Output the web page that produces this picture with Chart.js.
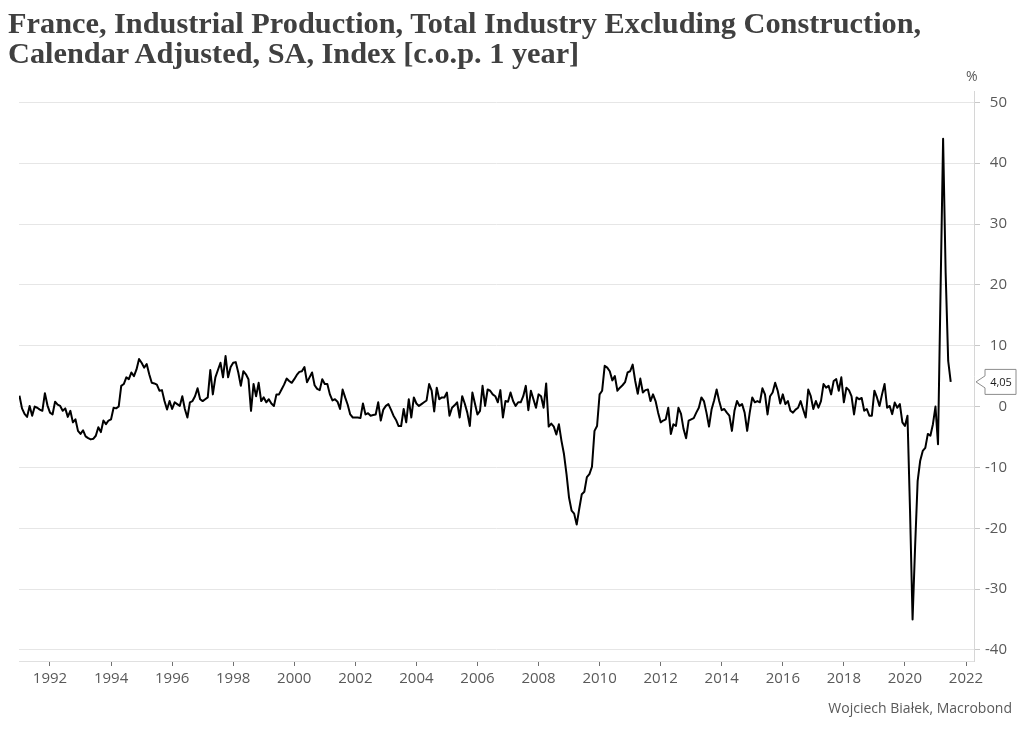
<!DOCTYPE html>
<html>
<head>
<meta charset="utf-8">
<script src="https://cdn.jsdelivr.net/npm/chart.js@4.4.0/dist/chart.umd.min.js"></script>
<style>
  html, body { margin: 0; padding: 0; background: #ffffff; }
  #wrap { position: relative; width: 1024px; height: 730px; overflow: hidden; }
  canvas { display: block; position: absolute; left: 0; top: 0; }
  #title { position: absolute; left: 8px; top: 8px; margin: 0; font-family: "Liberation Serif", "DejaVu Serif", serif; font-weight: bold; font-size: 28px; line-height: 30px; color: #404040; white-space: nowrap; }
  #unit { position: absolute; left: 966px; top: 66px; font-family: "Open Sans", "Noto Sans", sans-serif; font-size: 14px; color: #595959; }
  #source { position: absolute; right: 12px; top: 698px; font-family: "Open Sans", "Noto Sans", sans-serif; font-size: 14px; color: #595959; white-space: nowrap; }
</style>
</head>
<body>
<div id="wrap">
  <canvas id="c" width="1024" height="730"></canvas>
  <div id="title"></div>
  <div id="unit"></div>
  <div id="source"></div>
</div>
<script>
// ---- text ----
const titleLines = [
  "France, Industrial Production, Total Industry Excluding Construction,",
  "Calendar Adjusted, SA, Index [c.o.p. 1 year]"
];
const unitLabel = "%";
const sourceText = "Wojciech Białek, Macrobond";
const lastValueLabel = "4,05";

// ---- data: monthly, year-on-year % change, starting January 1991 ----
const startYear = 1991;
const values1991_1995 = [
  1.8, -0.3, -1.2, -1.7, 0.1, -1.5, 0.0, -0.2, -0.5, -0.7, 2.2, 0.2,
  -1.0, -1.3, 0.8, 0.3, 0.1, -0.7, -0.3, -1.7, -0.7, -2.6, -2.1, -4.0,
  -4.5, -3.9, -4.9, -5.2, -5.4, -5.3, -4.8, -3.4, -4.2, -2.3, -2.9, -2.3,
  -2.1, -0.2, -0.3, 0.0, 3.4, 3.7, 4.8, 4.5, 5.6, 5.0, 6.1, 7.8,
  7.2, 6.4, 7.0, 5.3, 3.9, 3.8, 3.6, 2.6, 2.7, 0.9, -0.5, 0.9
];
const values1996_2000 = [
  -0.4, 0.7, 0.4, 0.1, 1.7, -0.4, -1.8, 0.7, 0.9, 1.7, 3.0, 1.2,
  0.9, 1.2, 1.5, 6.0, 2.0, 4.8, 6.0, 7.2, 4.8, 8.3, 4.8, 6.5,
  7.2, 7.3, 5.6, 3.4, 5.8, 5.3, 4.5, -0.7, 3.7, 1.7, 3.9, 0.9,
  1.5, 0.7, 1.2, 0.5, 0.1, 2.0, 2.0, 2.8, 3.6, 4.6, 4.2, 3.9,
  4.5, 5.2, 5.7, 5.8, 6.5, 4.0, 4.8, 5.6, 3.5, 2.9, 2.7, 4.5
];
const values2001_2005 = [
  3.7, 3.7, 2.0, 1.0, 1.2, 0.8, -0.4, 2.8, 1.5, 0.3, -1.3, -1.8,
  -1.8, -1.8, -1.9, 0.5, -1.3, -1.1, -1.5, -1.4, -1.3, 0.7, -2.3, -0.5,
  0.1, 0.4, -0.5, -1.5, -2.2, -3.2, -3.2, -0.4, -2.6, 1.2, -1.8, 1.5,
  0.5, 0.1, 0.4, 0.7, 1.0, 3.7, 2.6, -0.8, 3.1, 1.2, 1.5, 1.5,
  2.3, -1.5, -0.2, 0.2, 0.7, -1.8, 1.7, 0.5, -1.0, -3.2, 2.3, 0.5
];
const values2006_2010 = [
  -1.3, -0.7, 3.4, 0.1, 2.8, 2.6, 2.0, 1.7, 0.7, 2.7, -1.8, 0.9,
  0.8, 2.3, 0.9, 0.1, 0.7, 0.7, 1.7, 3.4, -0.6, 2.6, 1.2, -0.2,
  2.0, 1.7, -0.2, 3.8, -3.3, -2.8, -3.3, -4.6, -2.9, -5.6, -7.8, -11.1,
  -15.0, -17.1, -17.6, -19.4, -16.8, -14.4, -14.0, -11.6, -11.1, -9.9, -4.0, -3.2,
  2.0, 2.6, 6.7, 6.4, 5.8, 4.3, 5.0, 2.6, 3.1, 3.5, 4.0, 5.6
];
const values2011_2015 = [
  5.8, 6.9, 4.2, 2.1, 4.6, 2.3, 2.7, 2.8, 0.9, 2.0, 0.9, -1.0,
  -2.6, -2.3, -2.1, -0.2, -4.5, -2.9, -3.2, -0.2, -1.2, -3.7, -5.2, -2.3,
  -2.1, -1.9, -1.0, -0.2, 1.5, 0.9, -1.0, -3.3, -0.5, 1.0, 2.8, 0.9,
  -0.6, -0.4, -1.0, -1.5, -4.0, -0.7, 0.9, 0.1, 0.4, -1.0, -4.0, -1.0,
  1.5, 0.7, 0.9, 0.7, 3.0, 2.0, -1.3, 1.7, 2.3, 3.9, 2.6, 0.5
];
const values2016_2020 = [
  2.0, 0.4, 0.9, -0.7, -1.0, -0.5, -0.2, 0.9, -0.5, -1.8, 2.8, 1.7,
  -0.4, 0.9, -0.2, 0.9, 3.7, 3.1, 3.4, 2.0, 4.2, 4.5, 2.6, 4.8,
  0.7, 3.1, 2.7, 1.7, -1.3, 1.5, 1.2, 1.4, -0.7, -0.4, -1.5, -1.5,
  2.6, 1.5, 0.1, 2.0, 3.7, -0.2, 0.1, -1.25, 0.65, -0.2, 0.4, -2.6,
  -3.2, -1.5, -17.0, -35.0, -23.0, -12.2, -8.9, -7.3, -6.8, -4.5, -4.8, -2.9
];
const values2021 = [0.0, -6.2, 19.0, 44.0, 22.0, 7.5, 4.05];

// ---- axes ----
const xTickYears = [1992, 1994, 1996, 1998, 2000, 2002, 2004, 2006, 2008, 2010, 2012, 2014, 2016, 2018, 2020, 2022];
const yTickValues = [-40, -30, -20, -10, 0, 10, 20, 30, 40, 50];

// ---- build series ----
const allValues = [].concat(values1991_1995, values1996_2000, values2001_2005,
                            values2006_2010, values2011_2015, values2016_2020, values2021);
const points = allValues.map((v, i) => ({ x: startYear + i / 12, y: v }));
const lastValue = allValues[allValues.length - 1];

// ---- text elements ----
document.getElementById('title').innerHTML = titleLines.join('<br>');
document.getElementById('unit').textContent = unitLabel;
document.getElementById('source').textContent = sourceText;
(function fitTitle() {
  const m = document.createElement('canvas').getContext('2d');
  m.font = 'bold 28px "Liberation Serif"';
  const w = m.measureText(titleLines[0]).width;
  const size = Math.max(20, Math.min(32, 28 * 914 / w));
  document.getElementById('title').style.fontSize = size.toFixed(2) + 'px';
})();

const tickFont = { family: '"Open Sans", "Noto Sans", sans-serif', size: 15 };

const calloutPlugin = {
  id: 'callout',
  afterDraw(chart) {
    const ctx = chart.ctx;
    const y = chart.scales.y.getPixelForValue(lastValue);
    const tipX = chart.chartArea.right + 2;
    const left = 985, right = 1016, top = y - 12.5, bottom = y + 12.5;
    ctx.save();
    ctx.beginPath();
    ctx.moveTo(tipX, y);
    ctx.lineTo(left, y - 6);
    ctx.lineTo(left, top);
    ctx.lineTo(right, top);
    ctx.lineTo(right, bottom);
    ctx.lineTo(left, bottom);
    ctx.lineTo(left, y + 6);
    ctx.closePath();
    ctx.fillStyle = '#ffffff';
    ctx.fill();
    ctx.strokeStyle = '#8c8c8c';
    ctx.lineWidth = 1;
    ctx.stroke();
    ctx.fillStyle = '#1a1a1a';
    ctx.font = '11px "Open Sans", "Noto Sans", sans-serif';
    ctx.textAlign = 'center';
    ctx.textBaseline = 'middle';
    ctx.fillText(lastValueLabel, (left + right) / 2 + 0.5, y + 0.5);
    ctx.restore();
  }
};

new Chart(document.getElementById('c').getContext('2d'), {
  type: 'line',
  data: {
    datasets: [{
      data: points,
      borderColor: '#000000',
      borderWidth: 2,
      pointRadius: 0,
      tension: 0,
      fill: false,
      borderJoinStyle: 'round'
    }]
  },
  options: {
    responsive: false,
    animation: false,
    events: [],
    layout: { padding: { top: 91, left: 19, right: 17, bottom: 41 } },
    plugins: { legend: { display: false }, tooltip: { enabled: false }, title: { display: false } },
    scales: {
      x: {
        type: 'linear',
        min: 1990.985,
        max: 2022.262,
        afterBuildTicks: s => { s.ticks = xTickYears.map(v => ({ value: v })); },
        afterFit: s => { s.height = 28; },
        grid: { drawOnChartArea: false, drawTicks: true, tickLength: 5, tickColor: '#707070' },
        border: { display: true, color: '#e0e0e0', width: 1 },
        ticks: { color: '#595959', font: tickFont, padding: 4, maxRotation: 0, autoSkip: false, callback: v => String(v) }
      },
      y: {
        position: 'right',
        min: -41.82,
        max: 51.86,
        afterBuildTicks: s => { s.ticks = yTickValues.map(v => ({ value: v })); },
        afterFit: s => { s.width = 33; },
        grid: { color: '#e6e6e6', tickColor: '#c8c8c8', tickLength: 6, drawTicks: true },
        border: { display: true, color: '#d6d6d6', width: 1 },
        ticks: { color: '#595959', font: tickFont, crossAlign: 'far', padding: 4, callback: v => String(v) }
      }
    }
  },
  plugins: [calloutPlugin]
});
</script>
</body>
</html>
